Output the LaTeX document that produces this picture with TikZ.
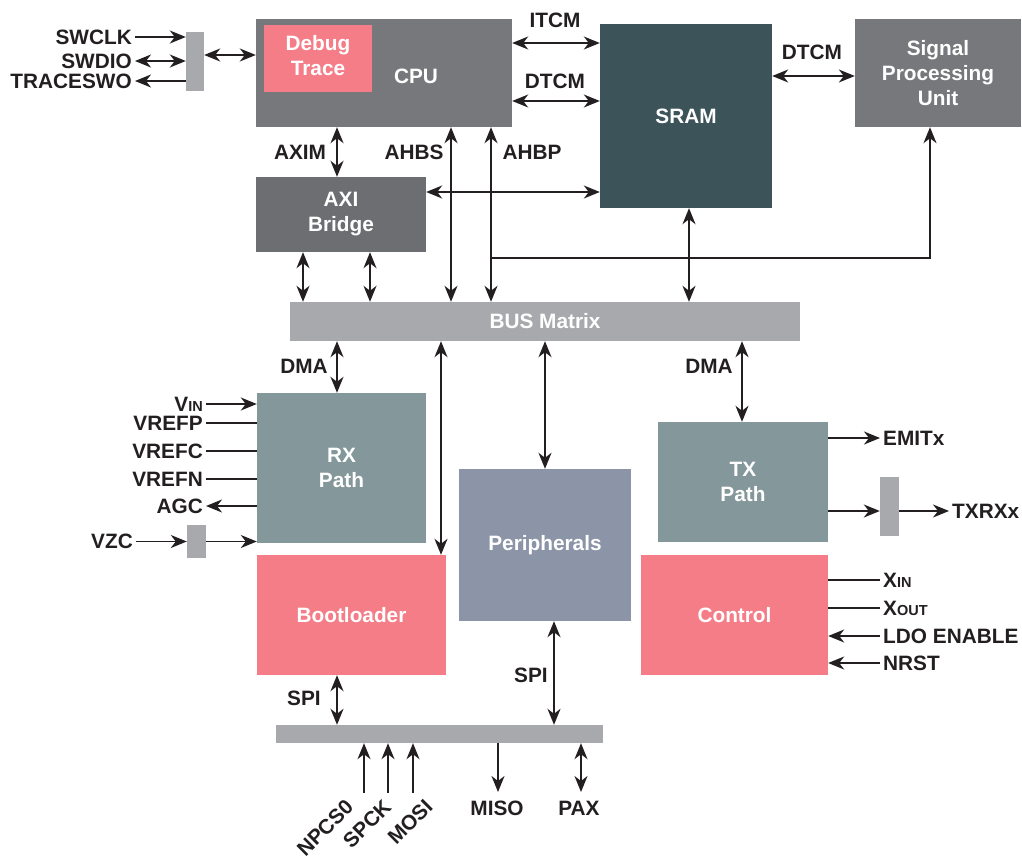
\documentclass[tikz,border=0pt]{standalone}
\usepackage{fontspec}
\setmainfont{Liberation Sans}
\usetikzlibrary{arrows.meta}
\definecolor{ink}{HTML}{231F20}
\definecolor{cpugray}{HTML}{77787B}
\definecolor{axigray}{HTML}{6D6E71}
\definecolor{sramc}{HTML}{3C535A}
\definecolor{pinkc}{HTML}{F47D88}
\definecolor{pathc}{HTML}{84979A}
\definecolor{perc}{HTML}{8C95A7}
\definecolor{barc}{HTML}{A7A9AC}
\newcommand\labfont{\fontsize{20.8}{25}\selectfont\bfseries}
\newcommand\subfont{\fontsize{14.5}{14.5}\selectfont}
\begin{document}
\begin{tikzpicture}[x=1pt,y=-1pt,
  box/.style={draw=none, inner sep=0pt, text=white, font=\labfont, align=center},
  lbl/.style={text=ink, font=\labfont, inner xsep=3pt, inner ysep=0pt},
  conn/.style={draw=ink, line width=1.7pt},
  tip/.tip={Stealth[length=16pt,width=13pt,inset=5pt]},
  uni/.style={conn, -tip},
  bi/.style={conn, tip-tip}]
\useasboundingbox (0,0) rectangle (1022,856);

% boxes
\node[box, fill=cpugray, minimum width=256pt, minimum height=108pt] (cpu) at (384,73) {};
\node[box, fill=pinkc, minimum width=108pt, minimum height=67pt] (dbg) at (318,58.5) {\raisebox{2pt}{\begin{tabular}{@{}c@{}}Debug\\Trace\end{tabular}}};
\node[text=white, font=\labfont, inner sep=0pt] (cpulbl) at (416,76) {CPU};
\node[box, fill=sramc, minimum width=172pt, minimum height=184pt] (sram) at (686,116) {SRAM};
\node[box, fill=cpugray, minimum width=166pt, minimum height=108pt] (spu) at (938,73) {Signal\\Processing\\Unit};
\node[box, fill=axigray, minimum width=170pt, minimum height=75pt] (axi) at (341,214.5) {AXI\\Bridge};
\node[box, fill=barc, minimum width=510pt, minimum height=39pt] (bus) at (545,321.5) {BUS Matrix};
\node[box, fill=pathc, minimum width=169pt, minimum height=150pt] (rx) at (341.5,468) {RX\\Path};
\node[box, fill=pathc, minimum width=170pt, minimum height=120pt] (tx) at (743,482) {TX\\Path};
\node[box, fill=perc, minimum width=172pt, minimum height=152pt] (per) at (545,545) {Peripherals};
\node[box, fill=pinkc, minimum width=189pt, minimum height=120pt] (boot) at (351.5,615) {Bootloader};
\node[box, fill=pinkc, minimum width=187pt, minimum height=120pt] (ctrl) at (734.5,615) {Control};
\node[box, fill=barc, minimum width=327pt, minimum height=18pt] (spibar) at (439.5,734) {};
\node[box, fill=barc, minimum width=18pt, minimum height=59pt] (jtag) at (195,61.5) {};
\node[box, fill=barc, minimum width=19pt, minimum height=33pt] (vzcb) at (196.5,541.5) {};
\node[box, fill=barc, minimum width=19pt, minimum height=59pt] (txrxb) at (889.5,506.5) {};

% debug port
\node[lbl, anchor=east] (swclk) at (135,37) {SWCLK};
\node[lbl, anchor=east] (swdio) at (135,61) {SWDIO};
\node[lbl, anchor=east] (traceswo) at (135,81) {TRACESWO};
\draw[uni] (swclk.east) -- (jtag.west |- swclk.east);
\draw[bi] (swdio.east) -- (jtag.west |- swdio.east);
\draw[uni] (jtag.west |- traceswo.east) -- (traceswo.east);
\draw[bi] (jtag.east |- 0,55) -- (cpu.west |- 0,55);

% CPU - SRAM
\node[lbl] (itcm) at (555,20) {ITCM};
\node[lbl] (dtcm1) at (555,81) {DTCM};
\draw[bi] (cpu.east |- 0,43) -- (sram.west |- 0,43);
\draw[bi] (cpu.east |- 0,101) -- (sram.west |- 0,101);
% SRAM - SPU
\node[lbl] (dtcm2) at (812,52) {DTCM};
\draw[bi] (sram.east |- 0,76) -- (spu.west |- 0,76);

% CPU - AXI
\node[lbl] (axim) at (300,152) {AXIM};
\draw[bi] (cpu.south -| 337,0) -- (axi.north -| 337,0);
% AHBS / AHBP
\node[lbl] (ahbs) at (414,152) {AHBS};
\node[lbl] (ahbp) at (532,152) {AHBP};
\draw[bi] (cpu.south -| 451,0) -- (bus.north -| 451,0);
\draw[bi] (cpu.south -| 491,0) -- (bus.north -| 491,0);
\coordinate (br) at (491,258);
\draw[uni] (br) -| (spu.south -| 930,0);
% AXI - SRAM
\draw[bi] (axi.east |- 0,192) -- (sram.west |- 0,192);
% SRAM - BUS
\draw[bi] (sram.south -| 689,0) -- (bus.north -| 689,0);
% AXI - BUS
\draw[bi] (axi.south -| 303,0) -- (bus.north -| 303,0);
\draw[bi] (axi.south -| 370,0) -- (bus.north -| 370,0);

% BUS - lower blocks
\node[lbl] (dma1) at (304,366) {DMA};
\draw[bi] (bus.south -| 337,0) -- (rx.north -| 337,0);
\draw[bi] (bus.south -| 441,0) -- (boot.north -| 441,0);
\draw[bi] (bus.south -| 545,0) -- (per.north);
\node[lbl] (dma2) at (709,366) {DMA};
\draw[bi] (bus.south -| 742,0) -- (tx.north -| 742,0);

% RX inputs
\node[lbl, anchor=east] (vin) at (206,404) {V{\subfont IN}};
\node[lbl, anchor=east] (vrefp) at (206,423) {VREFP};
\node[lbl, anchor=east] (vrefc) at (206,451) {VREFC};
\node[lbl, anchor=east] (vrefn) at (206,479) {VREFN};
\node[lbl, anchor=east] (agc) at (206,506) {AGC};
\node[lbl, anchor=east] (vzc) at (136,541.5) {VZC};
\draw[uni] (vin.east) -- (rx.west |- vin.east);
\draw[conn] (vrefp.east) -- (rx.west |- vrefp.east);
\draw[conn] (vrefc.east) -- (rx.west |- vrefc.east);
\draw[conn] (vrefn.east) -- (rx.west |- vrefn.east);
\draw[uni] (rx.west |- agc.east) -- (agc.east);
\draw[uni] (vzc.east) -- (vzcb.west);
\draw[uni] (vzcb.east) -- (rx.west |- vzcb.east);

% TX outputs
\node[lbl, anchor=west] (emitx) at (880,438) {EMITx};
\node[lbl, anchor=west] (txrxx) at (949,511) {TXRXx};
\draw[uni] (tx.east |- emitx.west) -- (emitx.west);
\draw[uni] (tx.east |- txrxx.west) -- (txrxb.west |- txrxx.west);
\draw[uni] (txrxb.east |- txrxx.west) -- (txrxx.west);

% Control signals
\node[lbl, anchor=west] (xin) at (880,580) {X{\subfont IN}};
\node[lbl, anchor=west] (xout) at (880,608) {X{\subfont OUT}};
\node[lbl, anchor=west] (ldo) at (880,636) {LDO ENABLE};
\node[lbl, anchor=west] (nrst) at (880,663) {NRST};
\draw[conn] (ctrl.east |- xin.west) -- (xin.west);
\draw[conn] (ctrl.east |- xout.west) -- (xout.west);
\draw[uni] (ldo.west) -- (ctrl.east |- ldo.west);
\draw[uni] (nrst.west) -- (ctrl.east |- nrst.west);

% SPI
\node[lbl] (spi1) at (304,698) {SPI};
\node[lbl] (spi2) at (531,675) {SPI};
\draw[bi] (boot.south -| 337,0) -- (spibar.north -| 337,0);
\draw[bi] (per.south -| 554,0) -- (spibar.north -| 554,0);

% bottom pins
\coordinate (p1) at (364,793);
\coordinate (p2) at (388,793);
\coordinate (p3) at (413,793);
\coordinate (p4) at (498,792);
\coordinate (p5) at (581,792);
\draw[uni] (p1) -- (spibar.south -| p1);
\draw[uni] (p2) -- (spibar.south -| p2);
\draw[uni] (p3) -- (spibar.south -| p3);
\draw[uni] (spibar.south -| p4) -- (p4);
\draw[bi] (spibar.south -| p5) -- (p5);
\node[lbl, rotate=45] (npcs) at (325,828) {NPCS0};
\node[lbl, rotate=45] (spck) at (367,824) {SPCK};
\node[lbl, rotate=45] (mosi) at (410,822) {MOSI};
\node[lbl] (miso) at (497,808) {MISO};
\node[lbl] (pax) at (579,808) {PAX};
\end{tikzpicture}
\end{document}
